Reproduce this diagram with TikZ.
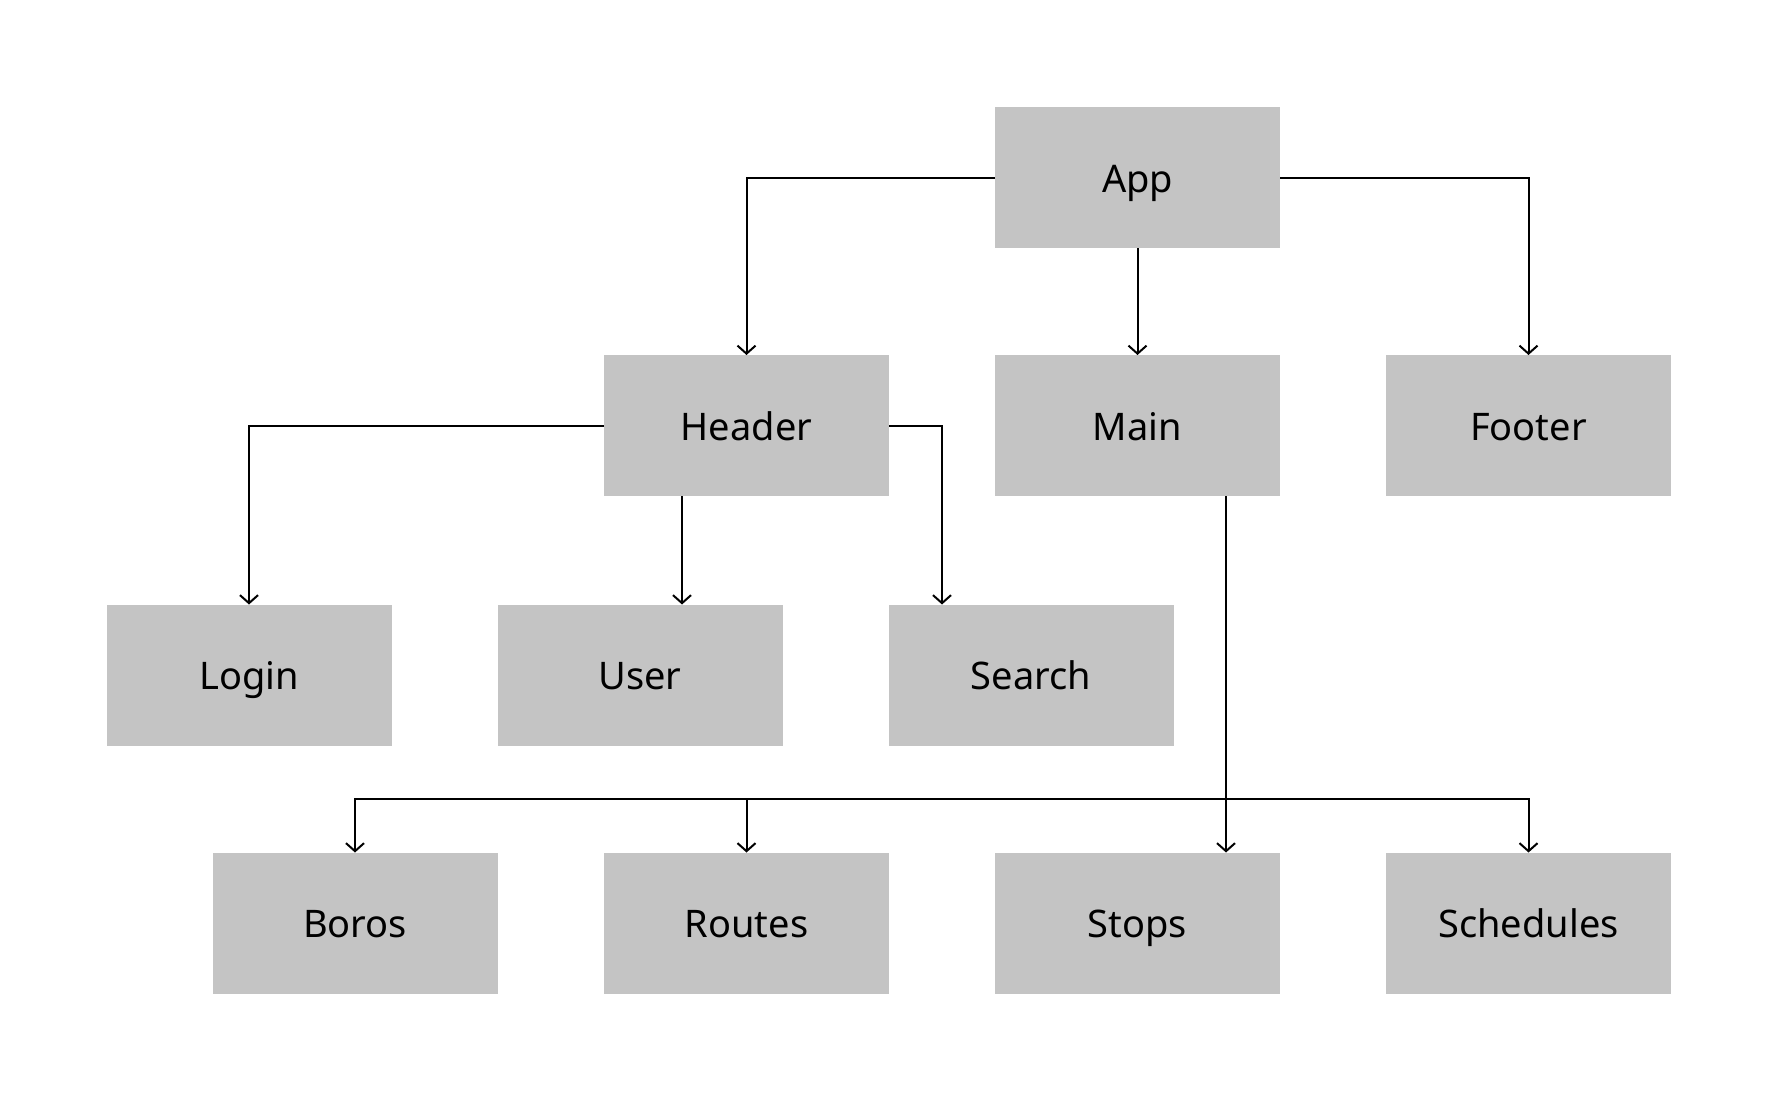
\documentclass[tikz,border=0pt]{standalone}
\usepackage{fontspec}
\setmainfont{Noto Sans}
\usetikzlibrary{arrows.meta}
\definecolor{boxgray}{HTML}{C4C4C4}

\begin{document}
\begin{tikzpicture}[x=0.5pt,y=-0.5pt,
	comp/.style={fill=boxgray,minimum width=142.5pt,minimum height=70.5pt,
		inner sep=0pt,outer sep=0pt,text height=14.5pt,text depth=0pt,
		font=\fontsize{19}{23}\selectfont},
	link/.style={line width=1pt,-{Straight Barb[length=4pt,width=9pt]}}]
		\useasboundingbox (0,0) rectangle (1777,1102);

		\node[comp] (App) at (1137.5,177.5) {App};

		\node[comp] (Header) at (746.5,425.5) {Header};
		\node[comp] (Main) at (1137.5,425.5) {Main};
		\node[comp] (Footer) at (1528.5,425.5) {Footer};

		\node[comp] (Login) at (249,675) {Login};
		\node[comp] (User) at (640,675) {User};
		\node[comp] (Search) at (1031,675) {Search};

		\node[comp] (Boros) at (355,923) {Boros};
		\node[comp] (Routes) at (746.5,923) {Routes};
		\node[comp] (Stops) at (1137.5,923) {Stops};
		\node[comp] (Schedules) at (1528.5,923) {Schedules};

		\coordinate (huser) at (682,0);
		\coordinate (hsearch) at (942,0);
		\coordinate (mbus) at (1226,799);

		\draw[link] (App.west) -| (Header.north);
		\draw[link] (App.south) -- (Main.north);
		\draw[link] (App.east) -| (Footer.north);

		\draw[link] (Header.west) -| (Login.north);
		\draw[link] (Header.south -| huser) -- (User.north -| huser);
		\draw[link] (Header.east) -| (Search.north -| hsearch);

		\draw[link] (Main.south -| mbus) -- (Stops.north -| mbus);
		\draw[link] (mbus) -| (Boros.north);
		\draw[link] (mbus) -| (Routes.north);
		\draw[link] (mbus) -| (Schedules.north);

	\end{tikzpicture}
\end{document}
